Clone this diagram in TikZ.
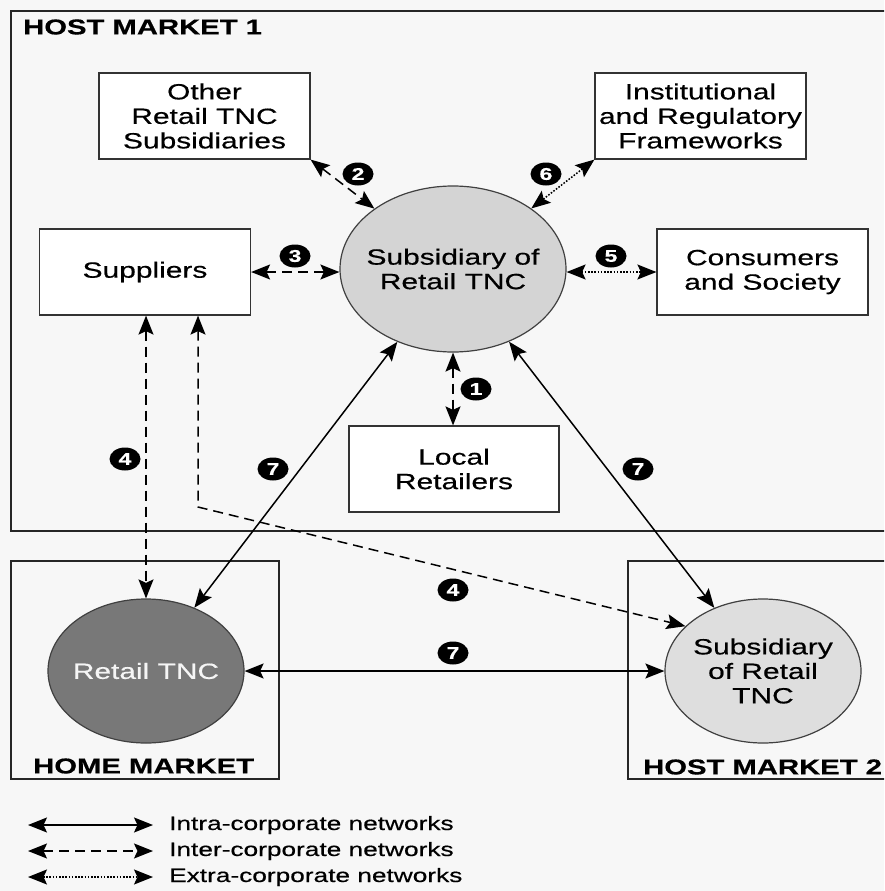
\documentclass[tikz,border=0pt]{standalone}
\usepackage{fontspec}
\setmainfont[FakeStretch=1.36,FakeBold=0.5]{Liberation Sans}
\usetikzlibrary{arrows.meta,shapes.geometric,calc}
\begin{document}
\begin{tikzpicture}[x=1pt,y=-1pt,
  frame/.style={draw=black!85, line width=1.9pt},
  box/.style={draw=black!80, line width=1.2pt, fill=white, minimum width=211pt, minimum height=86pt, align=center, font=\fontsize{22}{24.5}\selectfont, inner sep=0pt},
  blob/.style={ellipse, draw=black!75, line width=1.2pt, inner sep=0pt},
  blobtext/.style={align=center, font=\fontsize{22}{24.5}\selectfont, inner sep=0pt},
  mk/.style={ellipse, fill=black, text=white, minimum width=31pt, minimum height=23pt, inner sep=0pt, font=\bfseries\fontsize{17}{17}\selectfont},
  con/.style={line width=1.5pt, {Stealth[length=19pt,width=15pt,inset=3.5pt]}-{Stealth[length=19pt,width=15pt,inset=3.5pt]}},
  intra/.style={con},
  inter/.style={con, dash pattern=on 10pt off 6pt},
  extra/.style={con, dash pattern=on 1.6pt off 1.6pt},
  title/.style={font=\bfseries\fontsize{21.5}{22}\selectfont, inner sep=0pt},
  legtext/.style={font=\fontsize{19.3}{20}\selectfont, inner sep=0pt, anchor=west},
]
\useasboundingbox (0,0) rectangle (884,891);
\clip (0,0) rectangle (884,891);
\fill[black!3] (0,0) rectangle (884,891);

% frames
\draw[frame] (11,11) rectangle (900,531);
\draw[frame] (11,561) rectangle (279,779);
\draw[frame] (628,561) rectangle (900,779);
\node[title, anchor=west] (t1) at (23,27) {HOST MARKET 1};
\node[title, anchor=west] (t2) at (33,766) {HOME MARKET};
\node[title, anchor=west] (t3) at (643,767) {HOST MARKET 2};

% boxes
\node[box] (oth) at (204.5,116) {Other\\Retail TNC\\Subsidiaries};
\node[box] (ins) at (700.5,116) {Institutional\\and Regulatory\\Frameworks};
\node[box] (sup) at (145,272) {Suppliers};
\node[box] (con) at (762.5,272) {Consumers\\and Society};
\node[box, minimum width=210pt] (loc) at (454,469) {Local\\Retailers};

% ellipses
\node[blob, fill=black!17, minimum width=226pt, minimum height=166pt,
  label={[blobtext]center:Subsidiary of\\Retail TNC}] (sub) at (453,269) {};
\node[blob, fill=black!53, minimum width=196pt, minimum height=144pt,
  label={[blobtext, text=black!4]center:Retail TNC}] (rt) at (146,671) {};
\node[blob, fill=black!13, minimum width=196pt, minimum height=144pt,
  label={[blobtext]center:Subsidiary\\of Retail\\TNC}] (s2) at (763,671) {};

% connectors
\draw[inter] (oth.south east) -- (sub);
\draw[extra] (ins.south west) -- (sub);
\draw[inter] (sup.east) -- (sub.west |- sup.east);
\draw[extra] (sub.east |- con.west) -- (con.west);
\draw[inter] (sub.south) -- (sub.south |- loc.north);
\draw[inter] (rt.north |- sup.south) -- (rt.north);
\coordinate (c4) at ($(sup.south)+(53,0)$);
\coordinate (bend) at (198,507);
\draw[inter] (c4) -- (bend) -- (s2.150);
\draw[intra] (sub) -- (rt);
\draw[intra] (sub) -- (s2);
\draw[intra] (rt.east) -- (s2.west);

% markers
\node[mk] (m1) at (476,389) {1};
\node[mk] (m2) at (358,174) {2};
\node[mk] (m3) at (295,256) {3};
\node[mk] (m4a) at (125,459) {4};
\node[mk] (m4b) at (453,590) {4};
\node[mk] (m5) at (611,256) {5};
\node[mk] (m6) at (546,174) {6};
\node[mk] (m7a) at (273,469) {7};
\node[mk] (m7b) at (638,469) {7};
\node[mk] (m7c) at (453,653) {7};

% legend
\coordinate (la1) at (28,825); \coordinate (lb1) at (153,825);
\coordinate (la2) at (28,851); \coordinate (lb2) at (153,851);
\coordinate (la3) at (28,877); \coordinate (lb3) at (153,877);
\draw[intra] (la1) -- (lb1);
\draw[inter] (la2) -- (lb2);
\draw[extra] (la3) -- (lb3);
\node[legtext] (lt1) at (169,825) {Intra-corporate networks};
\node[legtext] (lt2) at (169,851) {Inter-corporate networks};
\node[legtext] (lt3) at (169,877) {Extra-corporate networks};
\end{tikzpicture}
\end{document}
